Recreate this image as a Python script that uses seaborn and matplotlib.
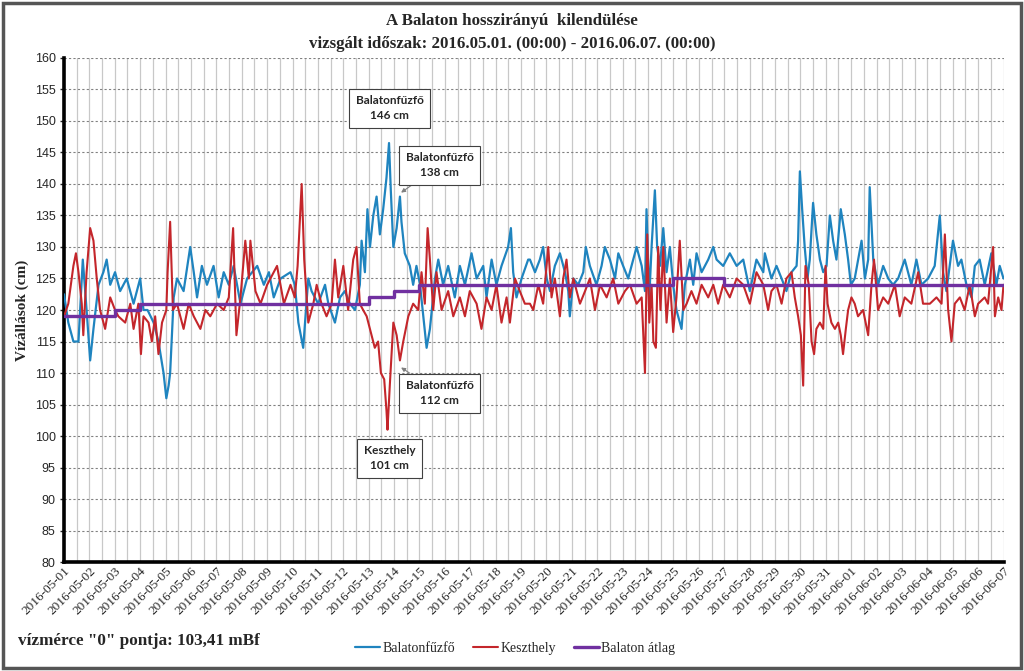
import matplotlib
matplotlib.use("Agg")
import matplotlib.pyplot as plt
import matplotlib.dates as mdates
from matplotlib.patches import Rectangle
import numpy as np
import pandas as pd
import seaborn as sns

# ---------------- data ----------------
start = pd.Timestamp("2016-05-01 00:00")
n_days = 37

fuzfo_days = [0.00, 0.17, 0.37, 0.57, 0.74, 0.89, 1.03, 1.16, 1.36, 1.55, 1.68, 1.82, 2.01, 2.21, 2.47, 2.74,
              3.00, 3.13, 3.29, 3.53, 3.72, 3.92, 4.03, 4.12, 4.18, 4.32, 4.45, 4.71, 4.97, 5.11, 5.24, 5.43,
              5.63, 5.89, 6.09, 6.29, 6.49, 6.68, 6.95, 7.21, 7.61, 7.87, 8.07, 8.26, 8.53, 8.92,
              9.09, 9.23, 9.42, 9.62, 9.75, 10.01, 10.28, 10.41, 10.67, 10.87, 11.06, 11.26, 11.46, 11.65,
              11.72, 11.85, 11.95, 12.05, 12.18, 12.31, 12.44, 12.57, 12.70, 12.80, 12.87, 12.97, 13.10,
              13.23, 13.29, 13.42, 13.62, 13.75, 13.88, 14.02, 14.15, 14.28, 14.41, 14.61, 14.74, 14.93,
              15.13, 15.39, 15.59, 15.79, 16.05, 16.25, 16.51, 16.64, 16.84, 17.03, 17.23, 17.49, 17.60,
              17.69, 17.82, 18.02, 18.28,
              18.35, 18.55, 18.74, 18.87, 19.01, 19.14, 19.33, 19.53, 19.73, 19.86, 19.92, 20.06, 20.25,
              20.45, 20.55, 20.71, 20.97, 21.17, 21.30, 21.50, 21.70, 21.83, 22.02, 22.22, 22.35, 22.55,
              22.75, 22.88, 22.94, 23.05, 23.14, 23.27, 23.36, 23.47, 23.60, 23.73, 23.86, 23.99, 24.12,
              24.32, 24.45, 24.65, 24.78, 24.91, 25.11, 25.37, 25.57, 25.70, 25.96, 26.22, 26.49, 26.75,
              27.01, 27.27, 27.54,
              27.60, 27.73, 27.86, 28.06, 28.26, 28.45, 28.65, 28.85, 28.91, 28.98, 29.07, 29.17, 29.28,
              29.37, 29.50, 29.63, 29.77, 29.90, 30.03, 30.16, 30.29, 30.42, 30.59, 30.75, 30.88, 30.99,
              31.14, 31.41, 31.54, 31.67, 31.73, 31.87, 32.06, 32.26, 32.46, 32.65, 32.85, 33.11, 33.37,
              33.57, 33.77, 34.03, 34.29, 34.49, 34.62, 34.75, 34.88, 35.01, 35.21, 35.34, 35.54, 35.74,
              35.87, 36.06, 36.26, 36.52, 36.72, 36.85, 37.00]
fuzfo_cm = [122.5, 118, 115, 115, 128, 120, 112, 117, 124, 126, 128, 124, 126, 123, 125, 121,
            125, 120, 120, 118, 115, 110, 106, 108, 110, 122, 125, 123, 130, 126, 122, 127,
            124, 127, 122, 126, 124, 127, 121, 125, 127, 124, 126, 122, 125, 126,
            124, 118, 114, 125, 123, 121, 124, 121, 118, 122, 123, 121, 120, 124,
            131, 126, 136, 130, 135, 138, 132, 136, 141, 146.5, 139, 130, 133,
            138, 134, 129, 127, 124, 127, 124, 119, 114, 117, 125, 128, 124,
            127, 122, 127, 124, 129, 125, 127, 122, 128, 124, 127, 130, 133,
            126, 122, 125, 128,
            128, 126, 128, 130, 125, 123, 127, 129, 126, 123, 119, 125, 124,
            126, 130, 127, 124, 127, 130, 128, 125, 129, 127, 125, 127, 130,
            127, 123, 136, 122, 130, 139, 130, 127, 133, 126, 130, 124, 120,
            117, 124, 128, 124, 129, 126, 128, 130, 128, 127, 129, 127, 128,
            123, 128, 126,
            129, 127, 125, 127, 125, 123, 126, 127, 131, 142, 136, 130, 125,
            128, 137, 132, 128, 126, 127, 135, 131, 128, 136, 132, 128, 124,
            125, 131, 125, 128, 139.5, 128, 124, 127, 125, 124, 125, 128, 124,
            128, 124, 125, 127, 135, 126, 123, 127, 131, 127, 128, 124, 122,
            127, 128, 124, 129, 124, 127, 125]

keszthely_days = [0.00, 0.17, 0.37, 0.47, 0.57, 0.70, 0.76, 0.89, 1.03, 1.16, 1.29, 1.42, 1.62, 1.82, 2.01,
                  2.14, 2.41, 2.61, 2.74, 2.93, 3.03, 3.13, 3.33, 3.46, 3.59, 3.72, 3.86, 4.03, 4.08, 4.18,
                  4.29, 4.45, 4.71, 4.91, 5.11, 5.37, 5.57, 5.76, 6.03, 6.29, 6.49, 6.66, 6.79, 6.95, 7.14,
                  7.28, 7.34, 7.54, 7.74, 8.00, 8.26, 8.39, 8.66, 8.92,
                  9.09, 9.20, 9.36, 9.46, 9.62, 9.82, 9.95, 10.14, 10.34, 10.54, 10.67, 10.80, 11.00, 11.19,
                  11.39, 11.52, 11.65, 11.78, 11.92, 12.11, 12.24, 12.37, 12.48, 12.61, 12.70, 12.74, 12.83,
                  12.97, 13.10, 13.23, 13.36, 13.56, 13.75, 13.95, 14.08, 14.21, 14.32, 14.41, 14.54, 14.67,
                  14.87, 15.13, 15.33, 15.59, 15.79, 15.98, 16.25, 16.44, 16.64, 16.84, 17.03, 17.23, 17.43,
                  17.56, 17.76, 17.95, 18.15,
                  18.35, 18.48, 18.68, 18.87, 19.07, 19.20, 19.33, 19.53, 19.66, 19.79, 19.92, 20.06, 20.32,
                  20.52, 20.71, 20.91, 21.11, 21.37, 21.63, 21.83, 22.09, 22.29, 22.55, 22.75, 22.88, 22.97,
                  23.05, 23.14, 23.21, 23.31, 23.40, 23.49, 23.60, 23.73, 23.86, 23.99, 24.12, 24.25, 24.39,
                  24.52, 24.71, 24.91, 25.11, 25.37, 25.57, 25.76, 25.96, 26.22, 26.49, 26.75, 27.01, 27.27,
                  27.54,
                  27.73, 27.86, 28.06, 28.26, 28.45, 28.65, 28.78, 28.91, 29.02, 29.11, 29.20, 29.33, 29.44,
                  29.54, 29.63, 29.77, 29.90, 29.99, 30.07, 30.22, 30.36, 30.49, 30.59, 30.68, 30.79, 30.88,
                  31.01, 31.14, 31.27, 31.47, 31.67, 31.80, 31.90, 32.06, 32.26, 32.46, 32.72, 32.91, 33.11,
                  33.37, 33.64, 33.83, 34.10, 34.36, 34.56, 34.69, 34.82, 34.95, 35.08, 35.28, 35.47, 35.67,
                  35.87, 36.00, 36.26, 36.39, 36.59, 36.66, 36.79, 36.92, 37.00]
keszthely_cm = [119, 121, 127, 129, 126, 121, 116, 126, 133, 131, 125, 120, 117, 122, 120,
                119, 118, 121, 117, 121, 113, 119, 118, 115, 119, 113, 118, 120, 126, 134,
                120, 121, 117, 121, 119, 117, 120, 119, 121, 120, 122, 133, 116, 122, 131,
                125, 131, 123, 121, 124, 126, 127, 121, 124,
                122, 127, 140, 128, 118, 121, 124, 121, 119, 121, 128, 122, 127, 120,
                128, 130, 121, 120, 119, 116, 114, 115, 110, 109, 104, 101, 108,
                118, 116, 112, 115, 119, 121, 120, 126, 121, 133, 128, 120, 126,
                120, 123, 119, 122, 119, 123, 121, 117, 122, 120, 124, 118, 122,
                118, 125, 123, 121,
                121, 120, 124, 121, 130, 122, 125, 119, 125, 128, 122, 125, 121,
                123, 125, 120, 124, 122, 125, 121, 123, 124, 121, 122, 110, 132,
                118, 124, 115, 114, 130, 120, 130, 118, 125, 116.5, 122, 131, 120,
                121, 123, 121, 124, 122, 124, 121, 124, 122, 125, 124, 121, 126,
                124,
                120, 123, 124, 121, 125, 126, 122, 119, 116, 108, 127, 124, 115,
                113, 117, 118, 117, 127, 121, 118, 117, 118, 116, 113, 117, 120,
                122, 121, 119, 120, 116, 124, 128, 120, 122, 121, 124, 119, 122,
                121, 126, 121, 121, 122, 121, 132, 120, 115, 121, 122, 120, 124,
                119, 121, 122, 121, 130, 119, 122, 120, 124]

atlag_day_index = list(range(n_days + 1))
atlag_cm = [119, 119, 120, 121, 121, 121, 121, 121, 121, 121, 121, 121, 122, 123,
            124, 124, 124, 124, 124, 124, 124, 124, 124, 124, 125, 125,
            124, 124, 124, 124, 124, 124, 124, 124, 124, 124, 124, 124]

series_labels = ["Balatonfűzfő", "Keszthely", "Balaton átlag"]
title_lines = ["A Balaton hosszirányú  kilendülése",
               "vizsgált időszak: 2016.05.01. (00:00) - 2016.06.07. (00:00)"]
y_label = "Vízállások (cm)"
footer_text = 'vízmérce "0" pontja: 103,41 mBf'

annotations = [  # (text, point_day, point_cm, box_day, box_cm, arrow)
    ("Balatonfűzfő\n146 cm", 12.80, 146.5, 12.83, 152.0, False),
    ("Balatonfűzfő\n138 cm", 13.23, 138.5, 14.80, 143.0, True),
    ("Balatonfűzfő\n112 cm", 13.23, 111.0, 14.80, 106.8, True),
    ("Keszthely\n101 cm", 12.74, 101.0, 12.83, 96.5, False),
]

# ---------------- build frames ----------------
def to_time(days):
    return start + pd.to_timedelta(np.asarray(days, dtype=float), unit="D")

df_f = pd.DataFrame({"time": to_time(fuzfo_days), "cm": fuzfo_cm})
df_k = pd.DataFrame({"time": to_time(keszthely_days), "cm": keszthely_cm})
df_a = pd.DataFrame({"time": to_time(atlag_day_index), "cm": atlag_cm})

# ---------------- style ----------------
sns.set_theme(style="white")
plt.rcParams["font.family"] = ["Liberation Serif", "DejaVu Serif"]

c_blue = "#1f84bf"
c_red = "#c4262b"
c_purple = "#7030a0"

fig = plt.figure(figsize=(10.24, 6.71), dpi=100)
ax = fig.add_axes([0.0625, 0.1624, 0.9175, 0.7512])

sns.lineplot(data=df_f, x="time", y="cm", ax=ax, color=c_blue, lw=1.6, label=series_labels[0], zorder=3)
sns.lineplot(data=df_k, x="time", y="cm", ax=ax, color=c_red, lw=1.5, label=series_labels[1], zorder=4)
sns.lineplot(data=df_a, x="time", y="cm", ax=ax, color=c_purple, lw=2.4, label=series_labels[2],
             drawstyle="steps-post", zorder=5)

ax.set_xlim(start, start + pd.Timedelta(days=n_days))
ax.set_ylim(80, 160)
ax.set_yticks(np.arange(80, 161, 5))
ax.xaxis.set_major_locator(mdates.DayLocator())
ax.xaxis.set_minor_locator(mdates.HourLocator(byhour=[12]))
ax.xaxis.set_major_formatter(mdates.DateFormatter("%Y-%m-%d"))

ax.grid(axis="x", which="both", color="#c8c8c8", lw=0.9, ls="-")
ax.grid(axis="y", which="major", color="#808080", lw=0.8, ls=(0, (2, 2)))
ax.set_axisbelow(True)

for side in ["top", "right"]:
    ax.spines[side].set_visible(False)
for side in ["left", "bottom"]:
    ax.spines[side].set_color("black")
    ax.spines[side].set_linewidth(2.6)

ax.tick_params(axis="y", which="major", length=3, width=1, labelsize=9, pad=3, left=True)
ax.tick_params(axis="x", which="both", length=0, labelsize=9.5, pad=2)
for lab in ax.get_yticklabels():
    lab.set_fontfamily("Liberation Sans")
for lab in ax.get_xticklabels():
    lab.set_rotation(45)
    lab.set_ha("right")
    lab.set_rotation_mode("anchor")

ax.set_xlabel("")
ax.set_ylabel(y_label, fontsize=11, fontweight="bold", labelpad=4)

# annotations
for text, pd_, pv, bd, bv, arrow in annotations:
    kw = dict(arrowprops=dict(arrowstyle="-|>", color="#7f7f7f", lw=0.8, mutation_scale=6,
                              shrinkA=0, shrinkB=1)) if arrow else {}
    ax.annotate(text, xy=(start + pd.Timedelta(days=pd_), pv),
                xytext=(start + pd.Timedelta(days=bd), bv),
                ha="center", va="center", fontsize=8.5, fontweight="bold",
                family=["Lato", "DejaVu Sans"], linespacing=1.45,
                bbox=dict(boxstyle="square,pad=0.55", fc="white", ec="#404040", lw=0.8),
                zorder=10, **kw)

# titles
fig.text(0.5, 0.969, title_lines[0], ha="center", va="center", fontsize=12.2, fontweight="bold")
fig.text(0.5, 0.935, title_lines[1], ha="center", va="center", fontsize=12.2, fontweight="bold")
fig.text(0.018, 0.045, footer_text, ha="left", va="center", fontsize=12.3, fontweight="bold")

# legend
ax.get_legend().remove()
h, l = ax.get_legend_handles_labels()
fig.legend(h, l, loc="center", bbox_to_anchor=(0.503, 0.034), ncol=3, frameon=False,
           fontsize=10, handlelength=1.8, handletextpad=0.15, columnspacing=1.3)

# outer frame
fig.patches.append(Rectangle((0.003, 0.004), 0.994, 0.992, transform=fig.transFigure,
                             fill=False, ec="#555555", lw=2.5))

fig.savefig("out.png", dpi=100)
